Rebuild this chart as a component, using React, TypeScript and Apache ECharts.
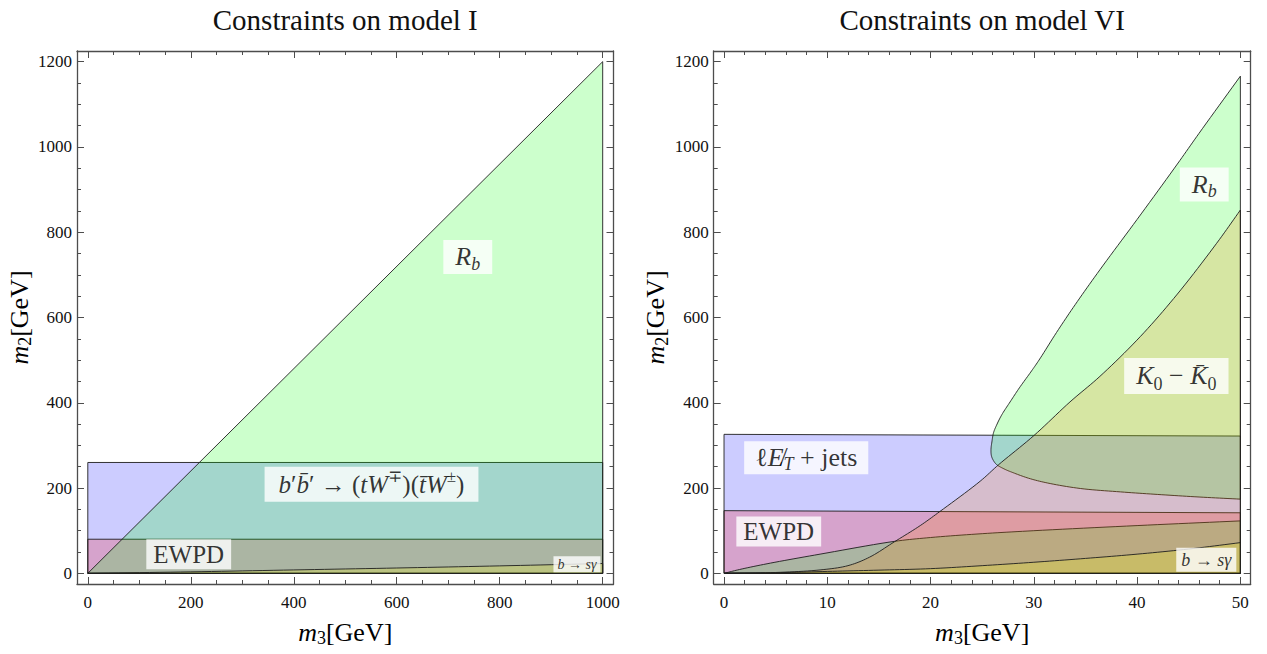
import React, { useEffect, useRef } from 'react';
import * as echarts from 'echarts';

const FONT = 'Liberation Serif, DejaVu Serif, serif';
const AX = '#4d4d4d';

// ---------- axes ----------
const xRangeI = [-21, 1021];
const xRangeVI = [-1, 51];
const yRange = [-25, 1225];
const xMajorI = [0, 200, 400, 600, 800, 1000];
const xMinorI = [50, 100, 150, 250, 300, 350, 450, 500, 550, 650, 700, 750, 850, 900, 950];
const xMajorVI = [0, 10, 20, 30, 40, 50];
const xMinorVI = [2, 4, 6, 8, 12, 14, 16, 18, 22, 24, 26, 28, 32, 34, 36, 38, 42, 44, 46, 48];
const yMajor = [0, 200, 400, 600, 800, 1000, 1200];
const yMinor = [50, 100, 150, 250, 300, 350, 450, 500, 550, 650, 700, 750, 850, 900, 950, 1050, 1100, 1150];
const titles = ['Constraints on model I', 'Constraints on model VI'];

// ---------- model I regions (m3, m2) ----------
const collI = [[0, 0], [1000, 0], [1000, 260], [0, 260]];
const ewpdI = [[0, 0], [1000, 0], [1000, 80], [0, 80]];
const rbI = [[0, 0], [1000, 1200], [1000, 0]];
const bsgI = [[0, 0], [200, 3.5], [400, 8], [600, 12.5], [800, 17.5], [1000, 23], [1000, 0]];

// ---------- model VI regions ----------
const collVI = [[0, 0], [50, 0], [50, 322], [0, 326]];
const ewpdVI = [[0, 0], [50, 0], [50, 142], [0, 147]];
const rbWedgeVI = [
  [50, 1166], [46, 1032], [43.9, 960], [40, 830], [36.4, 712], [34, 630], [32.2, 565],
  [30.5, 500], [29.7, 472], [28.6, 435], [27.7, 402], [26.9, 372], [26.4, 348], [26.1, 330],
  [25.95, 310], [25.85, 290], [25.9, 275], [26.1, 264], [26.4, 255], [27.2, 244], [28, 236],
  [29.5, 223], [31.3, 212], [34.5, 199], [38.4, 191], [42, 185], [46, 179], [50, 174],
];
const rbLowVI = [
  [0, 0], [1.5, 9], [4.5, 24], [9.3, 45], [16.5, 75], [20, 84], [25, 93], [30, 100],
  [40, 112], [50, 123], [50, 0],
];
const kkVI = [
  [0, 0], [5, 2], [9.3, 8], [12, 18], [14.1, 38], [16.5, 74], [19, 112], [20.9, 145],
  [24.8, 216], [26.6, 255], [30, 323], [33.5, 402], [36.4, 462], [40.3, 555], [43.9, 655],
  [47.7, 774], [50, 852], [50, 0],
];
const bsgVI = [
  [0, 0], [5, 1.5], [10, 4.5], [15, 7.5], [20, 11], [25, 18], [30, 26], [35, 35], [40, 45],
  [45, 57], [50, 72], [50, 0],
];

// ---------- labels ----------
const labelTextI = ['{i|R}{si|b}', '{i|b}{r|′}{i|b̄}{r|′ → (}{i|tW}{pr|∓}{r|)(}{i|t̄W}{pr|±}{r|)}', '{r|EWPD}', '{i|b}{r| → }{i|sγ}'];
const labelAtI = [[738, 742], [551, 209], [196, 45], [950, 21.6]];
const labelTextVI = ['{i|R}{si|b}', '{i|K}{sr|0}{r| − }{i|K̄}{sr|0}', '{r|ℓ}{i|E\u0338}{si|T}{r| + jets}', '{r|EWPD}', '{i|b}{r| → }{i|sγ}'];
const labelAtVI = [[46.5, 912], [43.8, 463], [7.96, 271], [5.3, 98], [46.7, 32]];

const BLUE = 'rgba(0,0,255,0.2)';
const RED = 'rgba(255,0,0,0.2)';
const GREEN = 'rgba(0,255,0,0.2)';
const ORANGE = 'rgba(255,128,0,0.2)';
const YELLOW = 'rgba(255,255,0,0.2)';

function rich(F: number, LH: number) {
  const s = Math.round(F * 0.68);
  const base = { fontFamily: FONT, color: '#000' };
  return {
    r: { ...base, fontSize: F, lineHeight: LH },
    i: { ...base, fontSize: F, lineHeight: LH, fontStyle: 'italic' },
    si: { ...base, fontSize: s, lineHeight: LH - 0.6 * F, verticalAlign: 'bottom', fontStyle: 'italic' },
    sr: { ...base, fontSize: s, lineHeight: LH - 0.6 * F, verticalAlign: 'bottom' },
    pr: { ...base, fontSize: s, lineHeight: LH - 0.75 * F, verticalAlign: 'top' },
  };
}

// centripetal Catmull-Rom through pixel points (drawing only)
function spline(pts: number[][], seg = 10) {
  if (pts.length < 3) return pts.slice();
  const d = (a: number[], b: number[]) => Math.max(Math.sqrt(Math.hypot(b[0] - a[0], b[1] - a[1])), 1e-4);
  const out: number[][] = [pts[0]];
  for (let i = 0; i < pts.length - 1; i++) {
    const p1 = pts[i];
    const p2 = pts[i + 1];
    const p0 = pts[i - 1] || [2 * p1[0] - p2[0], 2 * p1[1] - p2[1]];
    const p3 = pts[i + 2] || [2 * p2[0] - p1[0], 2 * p2[1] - p1[1]];
    const t0 = 0;
    const t1 = t0 + d(p0, p1);
    const t2 = t1 + d(p1, p2);
    const t3 = t2 + d(p2, p3);
    const mix = (a: number[], b: number[], ta: number, tb: number, t: number) => {
      const w = (t - ta) / (tb - ta);
      return [a[0] * (1 - w) + b[0] * w, a[1] * (1 - w) + b[1] * w];
    };
    for (let s = 1; s <= seg; s++) {
      const t = t1 + ((t2 - t1) * s) / seg;
      const A1 = mix(p0, p1, t0, t1, t);
      const A2 = mix(p1, p2, t1, t2, t);
      const A3 = mix(p2, p3, t2, t3, t);
      const B1 = mix(A1, A2, t0, t2, t);
      const B2 = mix(A2, A3, t1, t3, t);
      out.push(mix(B1, B2, t1, t2, t));
    }
  }
  return out;
}

function poly(pts: number[][], fill: string, ai: number, corners: number) {
  return {
    type: 'custom',
    xAxisIndex: ai,
    yAxisIndex: ai,
    data: pts,
    encode: { x: 0, y: 1 },
    silent: true,
    renderItem: (params: any, api: any) => {
      if (params.dataIndex !== 0) return null;
      const px = pts.map((p) => api.coord(p));
      const n = px.length - corners;
      const shape = corners >= px.length ? px : [...spline(px.slice(0, n)), ...px.slice(n)];
      return {
        type: 'polygon',
        shape: { points: shape },
        style: { fill, stroke: '#1e1e1e', lineWidth: 0.9 },
      };
    },
  };
}

function labels(texts: string[], at: number[][], fmt: { F: number; LH: number; pad: number[] }[], ai: number) {
  return {
    type: 'scatter',
    xAxisIndex: ai,
    yAxisIndex: ai,
    symbolSize: 0,
    silent: true,
    z: 10,
    data: at.map((p, k) => ({
      value: p,
      label: {
        show: true,
        position: 'inside',
        formatter: texts[k],
        backgroundColor: '#ffffff',
        padding: fmt[k].pad,
        rich: rich(fmt[k].F, fmt[k].LH),
      },
    })),
  };
}

const plain = (v: number) => String(v);

function xAxes(g: number, range: number[], majors: number[], minors: number[], title: string) {
  const lineStyle = { color: AX, width: 1 };
  const common = { gridIndex: g, type: 'value', min: range[0], max: range[1], splitLine: { show: false } };
  return [
    {
      ...common, position: 'bottom',
      axisLine: { onZero: false, lineStyle: { color: AX, width: 1.3 } },
      axisTick: { inside: true, length: 7, customValues: majors, lineStyle },
      axisLabel: { customValues: majors, formatter: plain, margin: 10, fontFamily: FONT, fontSize: 17, color: '#111' },
      name: '{i|m}{sr|3}{r|[GeV]}', nameLocation: 'middle', nameGap: 33,
      nameTextStyle: { rich: rich(26, 30) },
    },
    {
      ...common, position: 'bottom',
      axisLine: { show: false, onZero: false },
      axisTick: { inside: true, length: 4, customValues: minors, lineStyle },
      axisLabel: { show: false },
    },
    {
      ...common, position: 'top',
      axisLine: { onZero: false, lineStyle: { color: AX, width: 1.3 } },
      axisTick: { inside: true, length: 7, customValues: majors, lineStyle },
      axisLabel: { show: false },
      name: title, nameLocation: 'middle', nameGap: 17,
      nameTextStyle: { fontFamily: FONT, fontSize: 29, color: '#111' },
    },
    {
      ...common, position: 'top',
      axisLine: { show: false, onZero: false },
      axisTick: { inside: true, length: 4, customValues: minors, lineStyle },
      axisLabel: { show: false },
    },
  ];
}

function yAxes(g: number) {
  const lineStyle = { color: AX, width: 1 };
  const common = { gridIndex: g, type: 'value', min: yRange[0], max: yRange[1], splitLine: { show: false } };
  return [
    {
      ...common, position: 'left',
      axisLine: { onZero: false, lineStyle: { color: AX, width: 1.3 } },
      axisTick: { inside: true, length: 7, customValues: yMajor, lineStyle },
      axisLabel: { customValues: yMajor, formatter: plain, margin: 5, fontFamily: FONT, fontSize: 17, color: '#111' },
      name: '{i|m}{sr|2}{r|[GeV]}', nameLocation: 'middle', nameGap: 31,
      nameTextStyle: { rich: rich(26, 30) },
    },
    {
      ...common, position: 'left',
      axisLine: { show: false, onZero: false },
      axisTick: { inside: true, length: 4, customValues: yMinor, lineStyle },
      axisLabel: { show: false },
    },
    {
      ...common, position: 'right',
      axisLine: { onZero: false, lineStyle: { color: AX, width: 1.3 } },
      axisTick: { inside: true, length: 7, customValues: yMajor, lineStyle },
      axisLabel: { show: false },
    },
    {
      ...common, position: 'right',
      axisLine: { show: false, onZero: false },
      axisTick: { inside: true, length: 4, customValues: yMinor, lineStyle },
      axisLabel: { show: false },
    },
  ];
}

export default function App() {
  const ref = useRef<HTMLDivElement>(null);
  useEffect(() => {
    document.body.style.margin = '0';
    const chart = echarts.init(ref.current as HTMLDivElement, null, { renderer: 'svg' });
    const fmtI = [
      { F: 26, LH: 32, pad: [1, 12] },
      { F: 25, LH: 33, pad: [1, 14] },
      { F: 25, LH: 28, pad: [1, 7] },
      { F: 14, LH: 16, pad: [0, 4] },
    ];
    const fmtVI = [
      { F: 26, LH: 32, pad: [1, 12] },
      { F: 26, LH: 34, pad: [1, 12] },
      { F: 26, LH: 31, pad: [1, 11] },
      { F: 25, LH: 28, pad: [1, 7] },
      { F: 18, LH: 22, pad: [1, 5] },
    ];
    chart.setOption({
      animation: false,
      backgroundColor: '#ffffff',
      grid: [
        { left: 77, top: 46.5, width: 536.5, height: 537.5 },
        { left: 713.7, top: 46.5, width: 537, height: 537.5 },
      ],
      xAxis: [...xAxes(0, xRangeI, xMajorI, xMinorI, titles[0]), ...xAxes(1, xRangeVI, xMajorVI, xMinorVI, titles[1])],
      yAxis: [...yAxes(0), ...yAxes(1)],
      series: [
        poly(collI, BLUE, 0, 4),
        poly(ewpdI, RED, 0, 4),
        poly(rbI, GREEN, 0, 3),
        poly(bsgI, YELLOW, 0, 1),
        labels(labelTextI, labelAtI, fmtI, 0),
        poly(collVI, BLUE, 4, 4),
        poly(ewpdVI, RED, 4, 4),
        poly(rbWedgeVI, GREEN, 4, 0),
        poly(rbLowVI, GREEN, 4, 1),
        poly(kkVI, ORANGE, 4, 1),
        poly(bsgVI, YELLOW, 4, 1),
        labels(labelTextVI, labelAtVI, fmtVI, 4),
      ],
    });
    return () => chart.dispose();
  }, []);
  return <div ref={ref} style={{ width: 1267, height: 654, overflow: 'hidden' }} />;
}
